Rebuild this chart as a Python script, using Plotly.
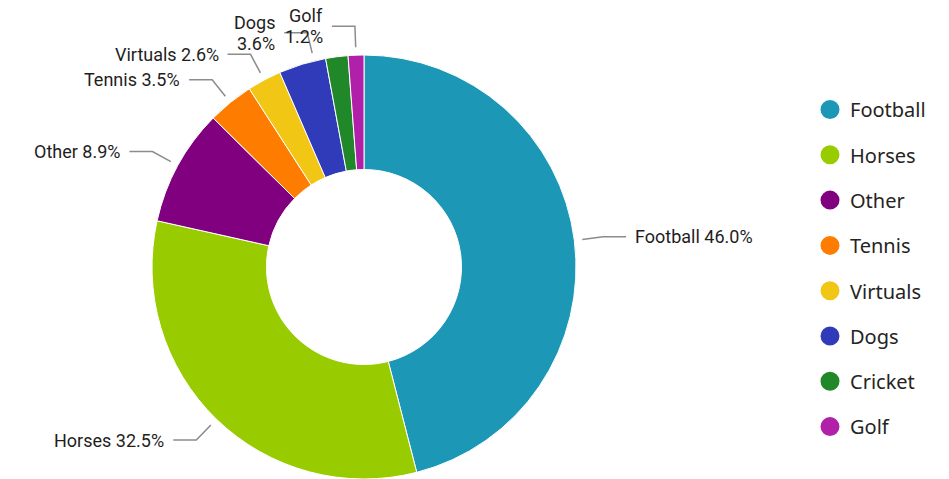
import math
import plotly.graph_objects as go

# ---- data ----
categories = ["Football", "Horses", "Other", "Tennis", "Virtuals", "Dogs", "Cricket", "Golf"]
shares = [46.0, 32.5, 8.9, 3.5, 2.6, 3.6, 1.7, 1.2]
colors = ["#1C97B6", "#99CC00", "#800080", "#FE7C00", "#F1C614", "#2F3BB8", "#21882A", "#B020A8"]

# label display rules (Power BI-like)
hidden_labels = {"Cricket"}
wrapped_labels = {"Dogs", "Golf"}
angle_nudge = {"Dogs": 3.3}

W, H = 949, 479
CX, CY, R = 364, 267, 212     # screen pixels
HOLE = 0.46
LINE_H = 21

def px(x):
    return x / W

def py(y):
    return 1 - y / H

label_font = dict(family="Roboto", size=18, color="#1F1E1D", weight=400)

fig = go.Figure()
fig.add_trace(go.Pie(
    labels=categories, values=shares, sort=False, direction="clockwise", rotation=0,
    hole=HOLE, textinfo="none", showlegend=False,
    marker=dict(colors=colors, line=dict(color="white", width=1)),
    domain=dict(x=[px(CX - R), px(CX + R)], y=[py(CY + R), py(CY - R)]),
))

# legend entries with round markers
for c, col in zip(categories, colors):
    fig.add_trace(go.Scatter(x=[None], y=[None], mode="markers", name=c, legendgroup=c,
                             marker=dict(color=col, size=16, symbol="circle",
                                         line=dict(color=col, width=3))))

total = sum(shares)
cum = 0.0
shapes, annotations = [], []
for c, v in zip(categories, shares):
    mid = (cum + v / 2) / total * 360.0
    cum += v
    if c in hidden_labels:
        continue
    a = math.radians(mid + angle_nudge.get(c, 0.0))
    sx, sy = math.sin(a), -math.cos(a)
    x0, y0 = CX + (R + 8) * sx, CY + (R + 8) * sy
    x1, y1 = CX + (R + 29) * sx, CY + (R + 29) * sy
    side = 1 if sx >= 0 else -1
    x2 = x1 + side * 23
    shapes.append(dict(type="path", xref="paper", yref="paper",
                       path=f"M {px(x0)} {py(y0)} L {px(x1)} {py(y1)} L {px(x2)} {py(y1)}",
                       line=dict(color="#8C8C8C", width=1.5)))
    if c in wrapped_labels:
        lines = [c, f"{v:.1f}%"]
    else:
        lines = [f"{c} {v:.1f}%"]
    n = len(lines)
    for i, t in enumerate(lines):
        ly = y1 + (i - (n - 1) / 2) * LINE_H
        annotations.append(dict(
            x=px(x2 + side * 8), y=py(ly), xref="paper", yref="paper",
            text=t, showarrow=False, borderpad=0,
            xanchor="left" if side > 0 else "right",
            yanchor="middle", font=label_font,
        ))

fig.update_layout(
    width=W, height=H, margin=dict(l=0, r=0, t=0, b=0),
    paper_bgcolor="white", plot_bgcolor="white",
    xaxis=dict(visible=False), yaxis=dict(visible=False),
    shapes=shapes, annotations=annotations,
    legend=dict(x=px(810), y=py(90), xanchor="left", yanchor="top",
                font=dict(family="Noto Sans", size=20, color="#252423"),
                itemsizing="trace", tracegroupgap=16.3, bgcolor="rgba(0,0,0,0)"),
)

fig.write_html("out.html", config={"displayModeBar": False},
               post_script="document.body.style.margin='0';")
